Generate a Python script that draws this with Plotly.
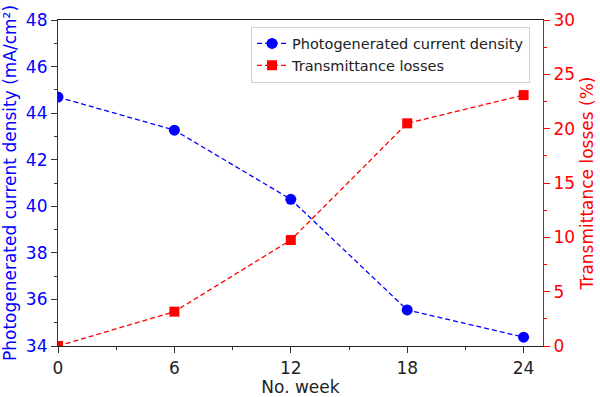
import plotly.graph_objects as go

weeks = [0, 6, 12, 18, 24]
current_density = [44.69, 43.27, 40.3, 35.55, 34.38]
transmittance_losses = [0.0, 3.16, 9.75, 20.49, 23.09]

FONT = "DejaVu Sans"
BLUE = "#0000ff"
RED = "#ff0000"

fig = go.Figure()
fig.add_trace(go.Scatter(
    x=weeks, y=current_density, name="Photogenerated current density",
    mode="lines+markers",
    line=dict(color=BLUE, width=1.3, dash="5px,3px"),
    marker=dict(symbol="circle", size=11, color=BLUE),
    yaxis="y",
))
fig.add_trace(go.Scatter(
    x=weeks, y=transmittance_losses, name="Transmittance losses",
    mode="lines+markers",
    line=dict(color=RED, width=1.3, dash="5px,3px"),
    marker=dict(symbol="square", size=10, color=RED),
    yaxis="y2",
))

fig.update_layout(
    width=600, height=397,
    margin=dict(l=58, r=57, t=20, b=51),
    paper_bgcolor="white", plot_bgcolor="white",
    font=dict(family=FONT, size=17, color="#222"),
    showlegend=True,
    legend=dict(
        x=0.398, y=0.98, xanchor="left", yanchor="top",
        bgcolor="rgba(255,255,255,0.9)", bordercolor="#d0d0d0", borderwidth=1,
        font=dict(family=FONT, size=14.5, color="#222"),
        tracegroupgap=0, itemwidth=30,
    ),
    xaxis=dict(
        range=[0, 25], tickvals=weeks, ticks="outside", ticklen=6, tickwidth=1,
        tickcolor="#333", showline=True, linecolor="#222", linewidth=1.2,
        mirror=True, showgrid=False, zeroline=False, automargin=False,
        minor=dict(dtick=3, ticks="outside", ticklen=3, tickcolor="#333"),
        title=dict(text="No. week", font=dict(size=17, color="#222"), standoff=4),
        tickfont=dict(size=17, color="#222"),
    ),
    yaxis=dict(
        range=[34, 48], dtick=2, ticks="outside", ticklen=6, tickwidth=1,
        tickcolor="#333", showline=True, linecolor="#333", linewidth=1.2,
        showgrid=False, zeroline=False, automargin=False,
        minor=dict(dtick=1, ticks="outside", ticklen=3, tickcolor="#333"),
        tickfont=dict(size=17, color=BLUE),
        title=dict(text="Photogenerated current density (mA/cm²)",
                   font=dict(size=17, color=BLUE), standoff=6),
    ),
    yaxis2=dict(
        range=[0, 30], dtick=5, overlaying="y", side="right",
        ticks="outside", ticklen=6, tickwidth=1, tickcolor=RED,
        showline=True, linecolor=RED, linewidth=1.2,
        showgrid=False, zeroline=False, automargin=False,
        minor=dict(dtick=2.5, ticks="outside", ticklen=3, tickcolor=RED),
        tickfont=dict(size=17, color=RED),
        title=dict(text="Transmittance losses (%)", font=dict(size=17, color=RED), standoff=6),
    ),
)

# remove the browser's default 8px body margin so the figure fills the window exactly
fig.write_html("out.html", config={"displayModeBar": False},
               post_script="document.body.style.margin='0';")
